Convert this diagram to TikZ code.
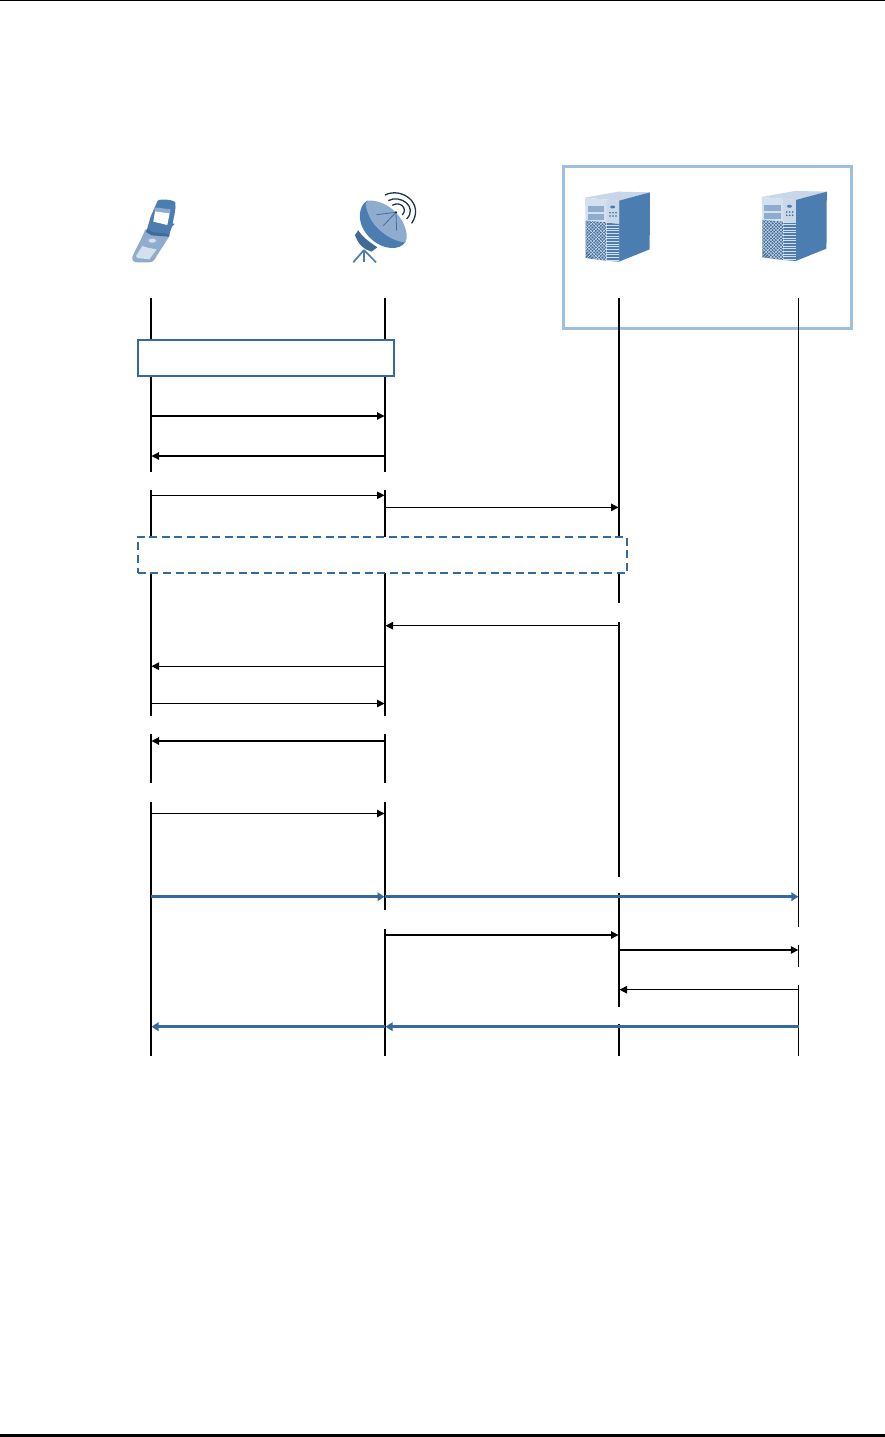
\documentclass[tikz,border=0pt]{standalone}
\usetikzlibrary{arrows.meta}
\definecolor{boxblue}{HTML}{356A9F}
\definecolor{paleblue}{HTML}{9DBFE0}
\definecolor{icondark}{HTML}{4C7DB1}
\definecolor{iconmid}{HTML}{8FACCF}
\definecolor{iconlight}{HTML}{D5E0EE}
\definecolor{iconnavy}{HTML}{1F3350}
\tikzset{
  lifethick/.style={black,line width=1.8pt},
  lifethin/.style={black,line width=1.1pt},
  msgfine/.style={black,line width=1.2pt,shorten >=0.5pt,-{Triangle[length=7.5pt,width=7.5pt]}},
  msgblue/.style={boxblue,line width=2.6pt,shorten >=0.5pt,-{Triangle[length=7pt,width=8.5pt]}},
  solidbox/.style={draw=boxblue,line width=1.8pt,fill=white},
  dashbox/.style={draw=boxblue,line width=1.8pt,dash pattern=on 8pt off 4.6pt},
  groupbox/.style={draw=paleblue,line width=3pt},
}
\newcommand{\serverart}{%
  \fill[iconlight!80!iconmid] (105,113) -- (205,95) -- (300,97) -- (207,122) -- cycle;
  \fill[icondark] (207,122) -- (300,97) -- (299,268) -- (207,305) -- cycle;
  \fill[iconlight] (105,113) -- (207,122) -- (207,192) -- (107,182) -- cycle;
  \fill[iconlight!85!iconmid] (170,119) -- (207,122) -- (207,192) -- (170,187) -- cycle;
  \fill[iconmid] (113,137) rectangle (162,155);
  \fill[iconmid] (113,162) rectangle (162,180);
  \fill[icondark] (188,141) ellipse [x radius=2.5pt,y radius=1.5pt];
  \foreach \bx in {180,189,198}{\foreach \by in {158,168}{
    \fill[icondark!80!black] (\bx,\by) circle [radius=0.9pt];}}
  \begin{scope}
    \clip (107,182) -- (168,187) -- (168,302) -- (107,294) -- cycle;
    \fill[icondark!90!black] (100,175) rectangle (175,310);
    \foreach \k in {0,10,...,220}{
      \draw[iconlight,line width=0.4pt] (100,175+\k) -- (175,100+\k);
      \draw[iconlight,line width=0.4pt] (100,40+\k) -- (175,115+\k);
    }
  \end{scope}
  \begin{scope}
    \clip (170,188) -- (207,192) -- (207,305) -- (170,302) -- cycle;
    \fill[iconlight] (165,185) rectangle (210,310);
    \foreach \k in {190,198,...,306}{
      \fill[icondark] (168,\k) rectangle (209,\k+5.5);
    }
  \end{scope}
}
\begin{document}
\begin{tikzpicture}[x=1pt,y=-1pt]
\useasboundingbox (0,0) rectangle (885,1437);
\fill[white] (0,0) rectangle (885,1437);
% page rules
\fill[black] (0,0) rectangle (885,1.3);
\fill[black] (0,1434) rectangle (885,1437);

% group box round the two servers
\node[groupbox,minimum width=288.4pt,minimum height=161.6pt,inner sep=0pt,outer sep=0pt,anchor=north west] (group) at (563.3,166.7) {};

% lifelines, segment by segment
\foreach \n/\x/\a/\b/\s in {
  a1/151/297.7/340/lifethick, a2/151/376/471.7/lifethick, a3/151/490/537/lifethick,
  a4/151/573/716/lifethick, a5/151/734/782.7/lifethick, a6/151/802/1055.7/lifethick,
  b1/385/297.7/340/lifethick, b2/385/376/471.7/lifethick, b3/385/490/537/lifethick,
  b4/385/573/716/lifethick, b5/385/734/782.7/lifethick, b6/385/802/910/lifethick,
  b7/385/929/1055.7/lifethick,
  c1/619/297.7/537/lifethick, c2/619/573/603.3/lifethick, c3/619/622.3/876.7/lifethick,
  c4/619/892.7/1006.7/lifethick, c5/619/1024/1055.7/lifethick,
  d1/798.8/297.7/926.7/lifethin, d2/798.8/945/966.7/lifethin, d3/798.8/985/1055.7/lifethin}{
  \coordinate (\n t) at (\x,\a);
  \coordinate (\n u) at (\x,\b);
  \draw[\s] (\n t) -- (\n u);
}

% boxes
\node[solidbox,minimum width=256.3pt,minimum height=35.7pt,inner sep=0pt,outer sep=0pt,anchor=north west] (setup) at (137.7,340) {};
\node[dashbox,minimum width=489.3pt,minimum height=36.3pt,inner sep=0pt,outer sep=0pt,anchor=north west] (proc) at (137.7,536.7) {};

% messages
\foreach \n/\f/\t/\y/\s in {
  m1/151/385/416/msgfine, m2/385/151/456/msgfine, m3/151/385/495.3/msgfine,
  m4/385/619/507.4/msgfine, m5/619/385/625.7/msgfine, m6/385/151/666.2/msgfine,
  m7/151/385/703.5/msgfine, m8/385/151/741/msgfine, m9/151/385/813.5/msgfine,
  m10/151/385/896.7/msgblue, m11/385/798.8/896.7/msgblue,
  m12/385/619/935/msgfine, m13/619/798.8/950/msgfine, m14/798.8/619/989.7/msgfine,
  m15/798.8/385/1026.7/msgblue, m16/385/151/1026.7/msgblue}{
  \coordinate (\n s) at (\f,\y);
  \coordinate (\n e) at (\t,\y);
  \draw[\s] (\n s) -- (\n e);
}

% phone
\begin{scope}[shift={(110pt,-170pt)},x=0.3333pt,y=-0.3333pt]
  \fill[iconmid] (106,178) .. controls (88,222) and (72,245) .. (67,262)
     .. controls (66,272) and (72,277) .. (82,277) -- (118,277)
     .. controls (130,277) and (135,268) .. (140,258) -- (180,196) -- cycle;
  \fill[iconlight] (97,228) -- (112,233) -- (140,238) -- (118,268) -- (82,264) -- (78,258) -- cycle;
  \fill[icondark!85!black] (112,175) -- (180,188) -- (176,200) -- (125,196) -- (108,186) -- cycle;
  \fill[icondark] (143,92) .. controls (150,86) and (188,88) .. (196,97)
     .. controls (199,115) and (192,140) .. (188,160) -- (194,162) -- (186,170)
     -- (178,192) -- (128,186) -- (112,175) -- (122,140) -- cycle;
  \fill[iconmid] (132,112) -- (182,118) -- (180,130) -- (135,124) -- cycle;
  \fill[white] (135,124) -- (179,130) -- (172,165) -- (130,155) -- cycle;
  \fill[icondark!60!white] (127,212) ellipse [x radius=6.2pt,y radius=3.8pt];
  \fill[iconlight] (127,212) ellipse [x radius=3.6pt,y radius=2pt];
\end{scope}

% dish
\begin{scope}[shift={(110pt,-170pt)},x=0.3333pt,y=-0.3333pt]
  \draw[icondark,line width=1.7pt] (762,240) -- (730,277);
  \draw[icondark,line width=1.7pt] (762,240) -- (762,277);
  \draw[icondark,line width=1.7pt] (762,240) -- (798,277);
  \fill[icondark!85!black] (735,195) -- (745,181) .. controls (760,205) and (785,220) .. (802,232)
     -- (785,245) .. controls (765,240) and (745,225) .. cycle;
  \fill[icondark] (772,92) .. controls (745,105) and (735,165) .. (785,208)
     .. controls (820,240) and (870,243) .. (887,215) -- cycle;
  \fill[iconmid] (772,92) .. controls (815,88) and (858,118) .. (878,155)
     .. controls (892,185) and (894,205) .. (885,217)
     .. controls (850,215) and (805,185) .. (785,152)
     .. controls (770,125) and (762,100) .. (772,92) -- cycle;
  \draw[icondark!80!iconnavy,line width=0.8pt] (858,127) -- (800,134);
  \draw[icondark!80!iconnavy,line width=0.8pt] (858,127) -- (820,167);
  \draw[icondark!80!iconnavy,line width=0.8pt] (858,127) -- (860,182);
  \fill[iconnavy] (858,127) circle [radius=1.3pt];
  \draw[iconnavy,line width=1.3pt] (825,75) .. controls (875,50) and (945,100) .. (905,160);
  \draw[iconnavy,line width=1.3pt] (835,92) .. controls (870,72) and (925,110) .. (890,147);
  \draw[iconnavy,line width=1.3pt] (847,106) .. controls (870,92) and (895,115) .. (877,135);
\end{scope}

% servers
\begin{scope}[shift={(550pt,-160pt)},x=0.3333pt,y=-0.3333pt]
  \serverart
\end{scope}
\begin{scope}[shift={(726.8pt,-159.3pt)},x=0.3333pt,y=-0.3333pt]
  \serverart
\end{scope}
\end{tikzpicture}
\end{document}
